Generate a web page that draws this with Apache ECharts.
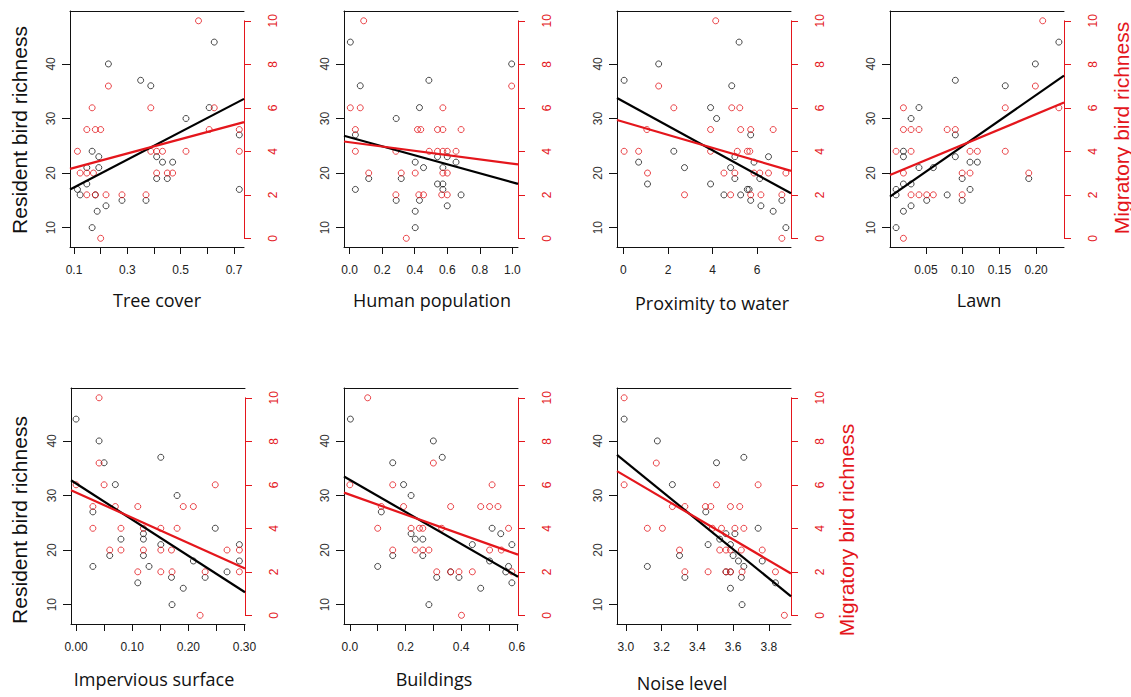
<!DOCTYPE html>
<html><head><meta charset="utf-8">
<script src="https://cdn.jsdelivr.net/npm/echarts@6/dist/echarts.min.js"></script>
<style>html,body{margin:0;padding:0;background:#fff}#c{width:1131px;height:697px}</style>
</head><body><div id="c"></div>
<script>
// ---------- DATA ----------
const panelNames = ['Tree cover','Human population','Proximity to water','Lawn','Impervious surface','Buildings','Noise level'];
const xLimits = [[0.085,0.7376],[-0.035,1.035],[-0.29,7.52],[0.001,0.238],[-0.009,0.301],[-0.021,0.604],[2.95,3.924]];
const xTicks = [
  [0.1,0.2,0.3,0.4,0.5,0.6,0.7],
  [0,0.2,0.4,0.6,0.8,1.0],
  [0,2,4,6],
  [0.05,0.10,0.15,0.20],
  [0,0.05,0.10,0.15,0.20,0.25,0.30],
  [0,0.1,0.2,0.3,0.4,0.5,0.6],
  [3.0,3.2,3.4,3.6,3.8]
];
const xTickLabels = [
  [0.1,0.3,0.5,0.7],
  [0,0.2,0.4,0.6,0.8,1.0],
  [0,2,4,6],
  [0.05,0.10,0.15,0.20],
  [0,0.10,0.20,0.30],
  [0,0.2,0.4,0.6],
  [3.0,3.2,3.4,3.6,3.8]
];
const xDecimals = [1,1,0,2,2,1,1];
const residentTicks = [10,20,30,40];
const migratoryTicks = [0,2,4,6,8,10];
const residentRange = [6.45,49.7];
const migratoryRange = [-0.4,10.45];

const treeCoverResident = [[0.626,44],[0.229,40],[0.35,37],[0.388,36],[0.607,32],[0.52,30],[0.72,27],[0.168,24],[0.193,23],[0.41,23],[0.432,22],[0.47,22],[0.148,21],[0.193,21],[0.41,19],[0.45,19],[0.148,18],[0.113,17],[0.72,17],[0.123,16],[0.18,16],[0.28,15],[0.37,15],[0.22,14],[0.187,13],[0.168,10]];
const treeCoverMigratory = [[0.567,10],[0.229,7],[0.168,6],[0.388,6],[0.626,6],[0.148,5],[0.18,5],[0.2,5],[0.607,5],[0.72,5],[0.113,4],[0.388,4],[0.41,4],[0.432,4],[0.52,4],[0.72,4],[0.123,3],[0.148,3],[0.173,3],[0.41,3],[0.45,3],[0.47,3],[0.148,2],[0.18,2],[0.22,2],[0.28,2],[0.37,2],[0.2,0]];

const humanResident = [[0.004,44],[0.065,36],[0.487,37],[0.996,40],[0.429,32],[0.286,30],[0.035,27],[0.54,23],[0.60,23],[0.403,22],[0.454,21],[0.573,21],[0.654,22],[0.117,19],[0.317,19],[0.54,18],[0.573,18],[0.035,17],[0.573,17],[0.286,15],[0.429,15],[0.685,16],[0.60,14],[0.403,13],[0.403,10]];
const humanMigratory = [[0.086,10],[0.004,6],[0.065,6],[0.573,6],[0.996,7],[0.035,5],[0.417,5],[0.437,5],[0.54,5],[0.573,5],[0.685,5],[0.035,4],[0.284,4],[0.489,4],[0.54,4],[0.573,4],[0.60,4],[0.654,4],[0.117,3],[0.317,3],[0.403,3],[0.573,3],[0.60,3],[0.284,2],[0.425,2],[0.454,2],[0.566,2],[0.60,2],[0.348,0]];

const waterResident = [[5.19,44],[1.58,40],[0.03,37],[4.86,36],[3.91,32],[4.18,30],[5.71,27],[2.26,24],[5.0,23],[6.51,23],[0.68,22],[5.86,22],[2.74,21],[4.81,21],[5.0,19],[6.12,19],[1.08,18],[3.91,18],[5.56,17],[5.64,17],[4.51,16],[5.26,16],[5.71,15],[7.11,15],[6.17,14],[6.72,13],[7.29,10]];
const waterMigratory = [[4.14,10],[1.58,7],[2.26,6],[4.86,6],[5.22,6],[1.05,5],[3.91,5],[5.26,5],[5.71,5],[6.72,5],[0.03,4],[0.68,4],[3.91,4],[5.11,4],[5.56,4],[5.67,4],[1.08,3],[4.51,3],[5.0,3],[5.86,3],[6.12,3],[6.51,3],[7.29,3],[2.74,2],[4.81,2],[5.71,2],[6.17,2],[7.11,2],[7.11,0]];

const lawnResident = [[0.231,44],[0.199,40],[0.090,37],[0.158,36],[0.0405,32],[0.0297,30],[0.090,27],[0.0193,24],[0.0193,23],[0.090,23],[0.110,22],[0.120,22],[0.0405,21],[0.060,21],[0.0993,19],[0.190,19],[0.0193,18],[0.0297,18],[0.0093,17],[0.110,17],[0.0093,16],[0.0789,16],[0.051,15],[0.0993,15],[0.0297,14],[0.0193,13],[0.0093,10]];
const lawnMigratory = [[0.209,10],[0.199,7],[0.0193,6],[0.158,6],[0.231,6],[0.0193,5],[0.0297,5],[0.0405,5],[0.0789,5],[0.090,5],[0.0093,4],[0.0297,4],[0.110,4],[0.120,4],[0.158,4],[0.0193,3],[0.0993,3],[0.110,3],[0.190,3],[0.0297,2],[0.0405,2],[0.051,2],[0.060,2],[0.0993,2],[0.0193,0]];

const imperviousResident = [[0.0,44],[0.041,40],[0.05,36],[0.151,37],[0.07,32],[0.18,30],[0.03,27],[0.12,23],[0.12,22],[0.08,22],[0.248,24],[0.151,21],[0.291,21],[0.06,19],[0.12,19],[0.209,18],[0.291,18],[0.03,17],[0.13,17],[0.269,16],[0.17,15],[0.23,15],[0.11,14],[0.191,13],[0.171,10]];
const imperviousMigratory = [[0.041,10],[0.041,7],[0.0,6],[0.05,6],[0.248,6],[0.03,5],[0.07,5],[0.11,5],[0.191,5],[0.209,5],[0.03,4],[0.08,4],[0.12,4],[0.151,4],[0.18,4],[0.06,3],[0.08,3],[0.12,3],[0.151,3],[0.17,3],[0.269,3],[0.291,3],[0.11,2],[0.151,2],[0.171,2],[0.23,2],[0.291,2],[0.221,0]];

const buildingsResident = [[0.002,44],[0.30,40],[0.332,37],[0.154,36],[0.193,32],[0.22,30],[0.113,27],[0.22,23],[0.235,22],[0.262,22],[0.511,24],[0.542,23],[0.44,21],[0.582,21],[0.154,19],[0.262,19],[0.502,18],[0.57,17],[0.10,17],[0.362,16],[0.56,16],[0.312,15],[0.392,15],[0.582,14],[0.47,13],[0.284,10]];
const buildingsMigratory = [[0.064,10],[0.30,7],[0.0,6],[0.154,6],[0.511,6],[0.113,5],[0.193,5],[0.362,5],[0.47,5],[0.502,5],[0.532,5],[0.10,4],[0.22,4],[0.25,4],[0.262,4],[0.33,4],[0.57,4],[0.154,3],[0.235,3],[0.262,3],[0.284,3],[0.502,3],[0.544,3],[0.312,2],[0.362,2],[0.392,2],[0.44,2],[0.582,2],[0.401,0]];

const noiseResident = [[2.99,44],[3.176,40],[3.507,36],[3.66,37],[3.26,32],[3.447,27],[3.74,24],[3.56,23],[3.61,23],[3.525,22],[3.46,21],[3.585,21],[3.30,19],[3.60,19],[3.63,18],[3.763,18],[3.12,17],[3.66,17],[3.56,16],[3.585,16],[3.33,15],[3.646,15],[3.837,14],[3.585,13],[3.65,10]];
const noiseMigratory = [[2.99,10],[3.17,7],[2.99,6],[3.507,6],[3.74,6],[3.26,5],[3.33,5],[3.445,5],[3.475,5],[3.585,5],[3.637,5],[3.12,4],[3.204,4],[3.484,4],[3.535,4],[3.61,4],[3.66,4],[3.30,3],[3.525,3],[3.56,3],[3.585,3],[3.646,3],[3.763,3],[3.33,2],[3.46,2],[3.56,2],[3.585,2],[3.65,2],[3.837,2],[3.887,0]];

// fitted regression line values at the left and right plot edges
const residentFit = [[17.0,33.6],[26.83,18.02],[33.75,16.3],[15.69,37.86],[32.8,12.26],[33.48,15.12],[37.44,11.52]];
const migratoryFit = [[3.19,5.34],[4.45,3.40],[5.44,3.10],[2.91,6.24],[5.75,2.15],[5.64,2.79],[6.63,1.92]];

const residentData = [treeCoverResident, humanResident, waterResident, lawnResident, imperviousResident, buildingsResident, noiseResident];
const migratoryData = [treeCoverMigratory, humanMigratory, waterMigratory, lawnMigratory, imperviousMigratory, buildingsMigratory, noiseMigratory];

// ---------- LAYOUT ----------
const RED = '#e4161c';
const INK = '#111';
const TICKFONT = 'Liberation Sans, Arial, sans-serif';
const panelPos = [[70,11],[344,11],[617,11],[890,11],[71,388],[344,388],[617,388]];
const PW = 174, PH = 236;
const migSpan = migratoryRange[1]-migratoryRange[0];
const redTopOff = (migratoryRange[1]-10)/migSpan*PH;
const redH = 10/migSpan*PH;

const grid=[], xAxis=[], yAxis=[], series=[];
panelNames.forEach((name,i)=>{
  const [L,T] = panelPos[i];
  grid.push({left:L, top:T, width:PW, height:PH, containLabel:false});
  grid.push({left:L, top:T+redTopOff, width:PW, height:redH, containLabel:false});
  const g0=2*i, g1=2*i+1;
  const dec = xDecimals[i];
  xAxis.push({type:'value', gridIndex:g0, position:'bottom', min:xLimits[i][0], max:xLimits[i][1],
    axisLine:{show:true,onZero:false,lineStyle:{color:INK,width:1}},
    axisTick:{show:true,length:7,customValues:xTicks[i],lineStyle:{color:INK}},
    axisLabel:{show:true,customValues:xTickLabels[i],formatter:v=>Number(v).toFixed(dec),margin:17,fontSize:12,fontFamily:TICKFONT,color:'#222'},
    splitLine:{show:false}});
  xAxis.push({type:'value', gridIndex:g0, position:'top', min:xLimits[i][0], max:xLimits[i][1],
    axisLine:{show:true,onZero:false,lineStyle:{color:INK,width:1}},
    axisTick:{show:false}, axisLabel:{show:false}, splitLine:{show:false}});
  xAxis.push({type:'value', gridIndex:g1, show:false, min:xLimits[i][0], max:xLimits[i][1], splitLine:{show:false}});
  yAxis.push({type:'value', gridIndex:g0, position:'left', min:residentRange[0], max:residentRange[1],
    axisLine:{show:true,onZero:false,lineStyle:{color:INK,width:1}},
    axisTick:{show:true,length:8,customValues:residentTicks,lineStyle:{color:INK}},
    axisLabel:{show:true,customValues:residentTicks,rotate:90,margin:13,fontSize:12,fontFamily:TICKFONT,color:'#333'},
    splitLine:{show:false}});
  yAxis.push({type:'value', gridIndex:g1, position:'right', min:0, max:10,
    axisLine:{show:true,onZero:false,lineStyle:{color:RED,width:1}},
    axisTick:{show:true,length:7,customValues:migratoryTicks,lineStyle:{color:RED}},
    axisLabel:{show:true,customValues:migratoryTicks,rotate:90,margin:23,fontSize:12,fontFamily:TICKFONT,color:RED},
    splitLine:{show:false}});
  const xb=3*i, xr=3*i+2, yb=2*i, yr=2*i+1;
  series.push({type:'scatter', xAxisIndex:xb, yAxisIndex:yb, data:residentData[i], symbol:'circle', symbolSize:6, clip:false,
    itemStyle:{color:'rgba(0,0,0,0)',borderColor:'#1c1c1c',borderWidth:1}, z:2, silent:true});
  series.push({type:'scatter', xAxisIndex:xr, yAxisIndex:yr, data:migratoryData[i], symbol:'circle', symbolSize:6, clip:false,
    itemStyle:{color:'rgba(0,0,0,0)',borderColor:RED,borderWidth:1}, z:2, silent:true});
  series.push({type:'line', xAxisIndex:xb, yAxisIndex:yb, data:[[xLimits[i][0],residentFit[i][0]],[xLimits[i][1],residentFit[i][1]]],
    showSymbol:false, symbol:'none', clip:false, lineStyle:{color:'#000',width:2.2}, z:4, silent:true});
  series.push({type:'line', xAxisIndex:xr, yAxisIndex:yr, data:[[xLimits[i][0],migratoryFit[i][0]],[xLimits[i][1],migratoryFit[i][1]]],
    showSymbol:false, symbol:'none', clip:false, lineStyle:{color:RED,width:2.2}, z:5, silent:true});
});

const titlePos = [[157,300],[432,300],[712,303],[979,300],[154,679],[434,679],[682,683]];
const graphic = [];
panelNames.forEach((name,i)=>{
  graphic.push({type:'text', x:titlePos[i][0], y:titlePos[i][1], silent:true,
    style:{text:name, font:'500 18px "Open Sans", sans-serif', fill:INK, textAlign:'center', textVerticalAlign:'middle'}});
});
[[19,130],[19,520]].forEach(p=>graphic.push({type:'text', x:p[0], y:p[1], rotation:Math.PI/2, silent:true,
  style:{text:'Resident bird richness', font:'21px "Liberation Sans", Arial, sans-serif', fill:INK, textAlign:'center', textVerticalAlign:'middle'}}));
[[1121,128],[846,530]].forEach(p=>graphic.push({type:'text', x:p[0], y:p[1], rotation:Math.PI/2, silent:true,
  style:{text:'Migratory bird richness', font:'21px "Liberation Sans", Arial, sans-serif', fill:RED, textAlign:'center', textVerticalAlign:'middle'}}));

const chart = echarts.init(document.getElementById('c'), null, {renderer:'svg'});
chart.setOption({animation:false, backgroundColor:'#fff', grid, xAxis, yAxis, series, graphic});
</script></body></html>
